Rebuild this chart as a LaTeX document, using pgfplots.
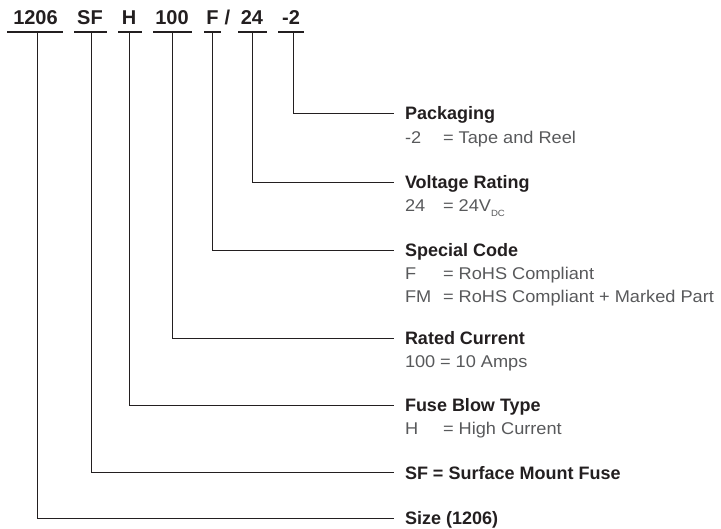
\documentclass[border=0pt]{standalone}
\usepackage{pgfplots}
\pgfplotsset{compat=1.18}
\usepackage{fontspec}
\setmainfont{Liberation Sans}
\newfontfamily\lightfont[FakeStretch=1.07]{Liberation Sans}
\definecolor{ink}{HTML}{231F20}
\definecolor{greytxt}{HTML}{58595B}
\newcommand{\ttl}[1]{\fontsize{18}{20}\selectfont\bfseries\color{ink}#1}
\newcommand{\sub}[1]{\fontsize{17}{19}\selectfont\lightfont\color{greytxt}#1}
\tikzset{
  lab/.style={anchor=base west, inner sep=0pt, outer sep=0pt},
  hd/.style={anchor=base, inner sep=0pt, outer sep=0pt, font=\fontsize{20}{22}\selectfont\bfseries, text=ink},
}
\begin{document}
\begin{tikzpicture}
\begin{axis}[
  name=ax,
  width=721pt, height=529pt, scale only axis,
  xmin=0, xmax=721, ymin=0, ymax=529, y dir=reverse,
  hide axis, clip=false,
]
% underlines of the part number
\pgfplotsset{ul/.style={ink, line width=2.6pt, line cap=butt}}
\addplot[ul] coordinates {(7,32) (63,32)};
\addplot[ul] coordinates {(74,32) (107,32)};
\addplot[ul] coordinates {(118,32) (142,32)};
\addplot[ul] coordinates {(153,32) (192,32)};
\addplot[ul] coordinates {(204,32) (221,32)};
\addplot[ul] coordinates {(238,32) (267,32)};
\addplot[ul] coordinates {(278,32) (304,32)};
% connectors
\pgfplotsset{cn/.style={ink, line width=1pt, line join=miter}}
\addplot[cn] coordinates {(293,33) (293,114) (394,114)};
\addplot[cn] coordinates {(252,33) (252,183) (394,183)};
\addplot[cn] coordinates {(212,33) (212,251) (394,251)};
\addplot[cn] coordinates {(172,33) (172,339) (394,339)};
\addplot[cn] coordinates {(129,33) (129,406) (394,406)};
\addplot[cn] coordinates {(91,33) (91,473) (394,473)};
\addplot[cn] coordinates {(37,33) (37,518) (394,518)};
% part number header
\node[hd] at (axis cs:35.5,25) {1206};
\node[hd] at (axis cs:90,25) {SF};
\node[hd] at (axis cs:129,25) {H};
\node[hd] at (axis cs:172,25) {100};
\node[hd] at (axis cs:212.5,25) {F};
\node[hd] at (axis cs:227.5,25) {/};
\node[hd] at (axis cs:252,25) {24};
\node[hd] at (axis cs:291,25) {-2};
% descriptions
\node[lab] at (axis cs:405,120) {\ttl{Packaging}};
\node[lab] at (axis cs:405,144) {\sub{-2}};
\node[lab] at (axis cs:443,144) {\sub{= Tape and Reel}};
\node[lab] at (axis cs:405,189) {\ttl{Voltage Rating}};
\node[lab] at (axis cs:405,212) {\sub{24}};
\node[lab] at (axis cs:443,212) {\sub{= 24V\raisebox{-5pt}{\fontsize{9}{10}\selectfont DC}}};
\node[lab] at (axis cs:405,257) {\ttl{Special Code}};
\node[lab] at (axis cs:405,280) {\sub{F}};
\node[lab] at (axis cs:443,280) {\sub{= RoHS Compliant}};
\node[lab] at (axis cs:405,303) {\sub{FM}};
\node[lab] at (axis cs:443,303) {\sub{= RoHS Compliant + Marked Part}};
\node[lab] at (axis cs:405,345) {\ttl{Rated Current}};
\node[lab] at (axis cs:405,368) {\sub{100}};
\node[lab] at (axis cs:440,368) {\sub{= 10 Amps}};
\node[lab] at (axis cs:405,412) {\ttl{Fuse Blow Type}};
\node[lab] at (axis cs:405,435) {\sub{H}};
\node[lab] at (axis cs:443,435) {\sub{= High Current}};
\node[lab] at (axis cs:405,480) {\ttl{SF = Surface Mount Fuse}};
\node[lab] at (axis cs:405,525) {\ttl{Size (1206)}};
\end{axis}
\pgfresetboundingbox
\path[use as bounding box] (ax.south west) rectangle (ax.north east);
\end{tikzpicture}
\end{document}
